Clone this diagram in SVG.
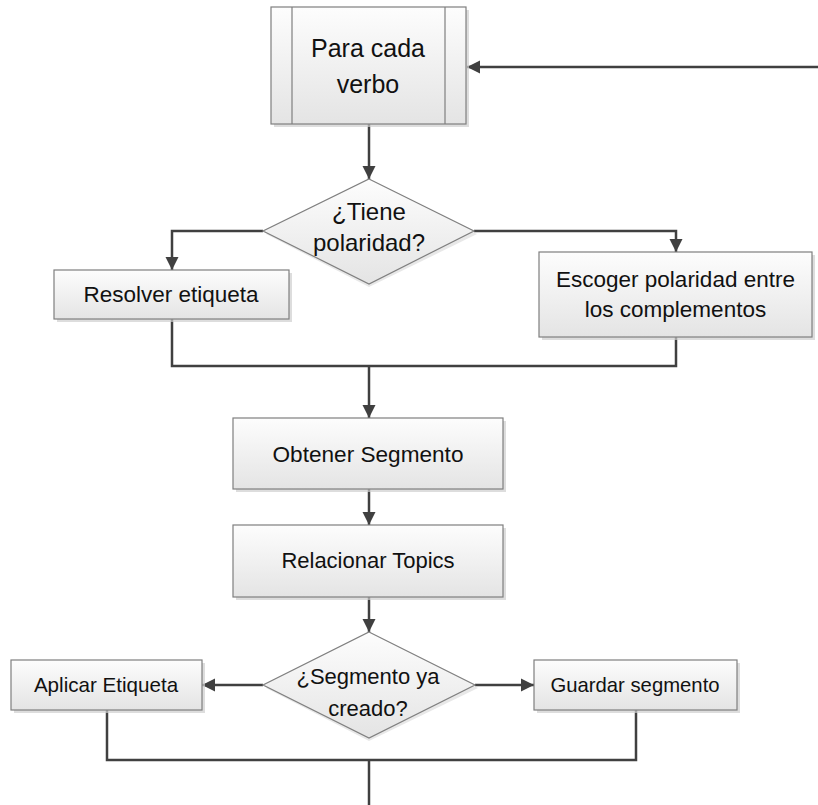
<svg xmlns="http://www.w3.org/2000/svg" width="818" height="805" viewBox="0 0 818 805">
<defs>
<linearGradient id="g" x1="0" y1="0" x2="0" y2="1">
<stop offset="0" stop-color="#fdfdfd"/>
<stop offset="1" stop-color="#e4e4e4"/>
</linearGradient>
<marker id="arr" markerUnits="userSpaceOnUse" markerWidth="14" markerHeight="14" refX="13" refY="7" orient="auto">
<path d="M0,0.5 L13,7 L0,13.5 z" fill="#404040"/>
</marker>
<style>
.box{fill:url(#g);stroke:#7f7f7f;stroke-width:1.2}
.sh{fill:#cfcfcf;opacity:0.7}
.t{font-family:"Liberation Sans",Arial,sans-serif;fill:#111;text-anchor:middle}
.c{fill:none;stroke:#404040;stroke-width:2.5}
.a{marker-end:url(#arr)}
</style>
</defs>
<rect width="818" height="805" fill="#ffffff"/>
<g id="connectors">
<path class="c a" d="M818,67 H467"/>
<path class="c a" d="M369,124 V179"/>
<path class="c a" d="M263,231 H172 V270"/>
<path class="c a" d="M474,231 H676 V252"/>
<path class="c" d="M172,319 V366 H676 V337"/>
<path class="c a" d="M369,366 V418"/>
<path class="c a" d="M369,489 V525"/>
<path class="c a" d="M369,597 V632"/>
<path class="c a" d="M263,685 H202"/>
<path class="c a" d="M475,685 H534"/>
<path class="c" d="M107,710 V760 H636 V710"/>
<path class="c" d="M369,760 V805"/>
</g>
<g id="para-cada-verbo">
<rect class="sh" x="274" y="10" width="195" height="117"/>
<rect class="box" x="271" y="7" width="195" height="117"/>
<line x1="292" y1="7" x2="292" y2="124" stroke="#7f7f7f" stroke-width="1.2"/>
<line x1="445" y1="7" x2="445" y2="124" stroke="#7f7f7f" stroke-width="1.2"/>
<text class="t" x="368" y="57" font-size="25">Para cada</text>
<text class="t" x="368" y="93" font-size="25">verbo</text>
</g>
<g id="tiene-polaridad">
<polygon points="369,182 477,234 369,287 266,234" fill="#d8d8d8" opacity="0.6"/>
<polygon class="box" points="369,179 474,231 369,284 263,231"/>
<text class="t" x="369" y="220" font-size="24">¿Tiene</text>
<text class="t" x="369" y="251" font-size="24">polaridad?</text>
</g>
<g id="resolver-etiqueta">
<rect class="sh" x="57" y="273" width="235" height="49"/>
<rect class="box" x="54" y="270" width="235" height="49"/>
<text class="t" x="171" y="302" font-size="22.5">Resolver etiqueta</text>
</g>
<g id="escoger-polaridad">
<rect class="sh" x="542" y="255" width="273" height="85"/>
<rect class="box" x="539" y="252" width="273" height="85"/>
<text class="t" x="675.5" y="287" font-size="22.5">Escoger polaridad entre</text>
<text class="t" x="675.5" y="317" font-size="22.5">los complementos</text>
</g>
<g id="obtener-segmento">
<rect class="sh" x="236" y="421" width="270" height="71"/>
<rect class="box" x="233" y="418" width="270" height="71"/>
<text class="t" x="368" y="462" font-size="22.6">Obtener Segmento</text>
</g>
<g id="relacionar-topics">
<rect class="sh" x="236" y="528" width="270" height="72"/>
<rect class="box" x="233" y="525" width="270" height="72"/>
<text class="t" x="368" y="568" font-size="22">Relacionar Topics</text>
</g>
<g id="segmento-creado">
<polygon points="369,635 478,688 369,741 266,688" fill="#d8d8d8" opacity="0.6"/>
<polygon class="box" points="369,632 475,685 369,738 263,685"/>
<text class="t" x="368" y="684" font-size="22">¿Segmento ya</text>
<text class="t" x="368" y="716" font-size="22">creado?</text>
</g>
<g id="aplicar-etiqueta">
<rect class="sh" x="14" y="663" width="191" height="50"/>
<rect class="box" x="11" y="660" width="191" height="50"/>
<text class="t" x="106" y="692" font-size="20.6">Aplicar Etiqueta</text>
</g>
<g id="guardar-segmento">
<rect class="sh" x="537" y="663" width="203" height="50"/>
<rect class="box" x="534" y="660" width="203" height="50"/>
<text class="t" x="635" y="692" font-size="20.3">Guardar segmento</text>
</g>
</svg>
